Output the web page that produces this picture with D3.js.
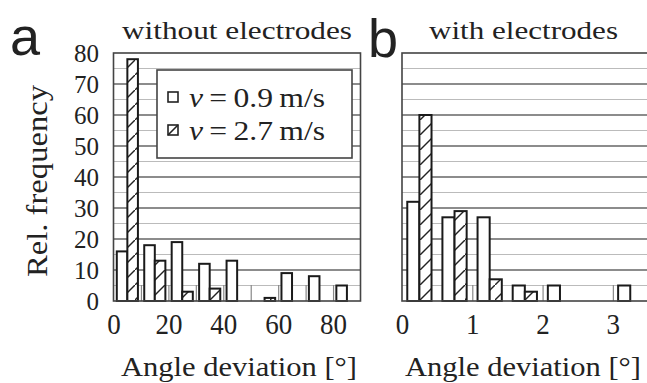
<!DOCTYPE html>
<html>
<head>
<meta charset="utf-8">
<script src="https://cdn.jsdelivr.net/npm/d3@7"></script>
<style>
  body { margin: 0; background: #fff; }
  svg { display: block; }
  text { font-family: 'Liberation Serif', 'Times New Roman', serif; fill: #222; }
  text.letter { font-family: 'Liberation Sans', Arial, sans-serif; }
</style>
</head>
<body>
<div id="chart"></div>
<script>
// data: relative frequency per angle-deviation bin
const seriesNames = ["v09", "v27"];
const binsA = [0, 10, 20, 30, 40, 50, 60, 70, 80];          // bin starts, width 10°
const slowA = [16, 18, 19, 12, 13, 0, 9, 8, 5];              // v = 0.9 m/s
const fastA = [78, 13, 3, 4, 0, 1, 0, 0, 0];                 // v = 2.7 m/s
const binsB = [0, 0.5, 1, 1.5, 2, 2.5, 3];                   // bin starts, width 0.5°
const slowB = [32, 27, 27, 5, 5, 0, 5];
const fastB = [60, 29, 7, 3, 0, 0, 0];
const yTicks = [0, 10, 20, 30, 40, 50, 60, 70, 80];
const xLabelsA = [0, 20, 40, 60, 80];
const xLabelsB = [0, 1, 2, 3];

const width = 647, height = 383;
const serif = "'Liberation Serif', 'Times New Roman', serif";
const svg = d3.select("#chart").append("svg")
  .attr("width", width).attr("height", height);

// hatch pattern for v = 2.7
const defs = svg.append("defs");
defs.append("pattern")
  .attr("id", "hatch")
  .attr("patternUnits", "userSpaceOnUse")
  .attr("width", 15).attr("height", 15)
  .call(p => {
    p.append("rect").attr("width", 15).attr("height", 15).attr("fill", "#fff");
    p.append("path").attr("d", "M-2,17 L17,-2").attr("stroke", "#222").attr("stroke-width", 1.4);
  });

const y = d3.scaleLinear().domain([0, 80]).range([301, 53]);

function panel(opts) {
  const x = d3.scaleLinear().domain(opts.domain).range(opts.range);
  const g = svg.append("g");
  const left = opts.range[0], right = opts.range[1];

  // horizontal grid
  g.append("g").selectAll("line")
    .data(d3.range(5, 80, 5))
    .join("line")
    .attr("x1", left).attr("x2", right)
    .attr("y1", d => y(d)).attr("y2", d => y(d))
    .attr("stroke", d => d % 10 === 0 ? "#666" : "#bbb")
    .attr("stroke-width", d => d % 10 === 0 ? 1.3 : 1.2);

  // inner ticks
  g.append("g")
    .attr("transform", `translate(0,${y(0)})`)
    .call(d3.axisBottom(x).tickValues(opts.tickLines).tickSize(-16).tickFormat(""))
    .call(a => a.select(".domain").remove())
    .call(a => a.selectAll("line").attr("stroke", "#888").attr("stroke-width", 1.2));

  // bars
  const sub = d3.scaleBand().domain(seriesNames).range(opts.barSpan.map(f => f * opts.binW));
  const rows = opts.bins.map((b, i) => ({ b, vals: [opts.slow[i], opts.fast[i]] }));
  g.append("g").selectAll("g")
    .data(rows)
    .join("g")
    .selectAll("rect")
    .data(d => seriesNames.map((s, j) => ({ s, b: d.b, v: d.vals[j] })).filter(d => d.v > 0))
    .join("rect")
    .attr("x", d => x(d.b + sub(d.s)))
    .attr("width", d => x(d.b + sub(d.s) + sub.bandwidth()) - x(d.b + sub(d.s)))
    .attr("y", d => y(d.v))
    .attr("height", d => y(0) - y(d.v))
    .attr("fill", d => d.s === "v27" ? "url(#hatch)" : "#fff")
    .attr("stroke", "#1a1a1a")
    .attr("stroke-width", 2);

  // frame
  g.append("rect")
    .attr("x", left).attr("y", y(80))
    .attr("width", right - left).attr("height", y(0) - y(80))
    .attr("fill", "none").attr("stroke", "#444").attr("stroke-width", 1.6);

  // tick labels
  g.append("g")
    .attr("transform", `translate(0,${y(0)})`)
    .call(d3.axisBottom(x).tickValues(opts.labels).tickSize(0).tickPadding(11).tickFormat(d3.format("d")))
    .call(a => a.select(".domain").remove())
    .call(a => a.selectAll("text")
      .style("font-family", serif)
      .attr("font-size", 27).attr("fill", "#222")
      .attr("transform", "scale(1,1.1)"));

  // axis title
  g.append("text")
    .attr("x", opts.titleX).attr("y", 376)
    .attr("font-size", 27)
    .attr("textLength", 236).attr("lengthAdjust", "spacingAndGlyphs")
    .text("Angle deviation [°]");

  // panel title
  g.append("text")
    .attr("x", opts.headX).attr("y", 39)
    .attr("font-size", 26)
    .attr("textLength", opts.headW).attr("lengthAdjust", "spacingAndGlyphs")
    .text(opts.head);

  // panel letter
  g.append("text")
    .attr("class", "letter")
    .attr("x", opts.letterX).attr("y", opts.letterY)
    .attr("font-size", 54)
    .text(opts.letter);

  return { x, g };
}

const pa = panel({
  domain: [0, 90], range: [113.5, 360.5], binW: 10, barSpan: [0.12, 0.89],
  bins: binsA, slow: slowA, fast: fastA,
  tickLines: d3.range(10, 90, 10), labels: xLabelsA,
  titleX: 121, head: "without electrodes", headX: 122, headW: 230,
  letter: "a", letterX: 10, letterY: 55
});

const pb = panel({
  domain: [0, 3.5], range: [402, 648], binW: 0.5, barSpan: [0.15, 0.84],
  bins: binsB, slow: slowB, fast: fastB,
  tickLines: [1, 2, 3], labels: xLabelsB,
  titleX: 405, head: "with electrodes", headX: 429, headW: 189,
  letter: "b", letterX: 368, letterY: 57
});

// y axis labels (panel a only)
svg.append("g")
  .attr("transform", "translate(113,0)")
  .call(d3.axisLeft(y).tickValues(yTicks).tickSize(0).tickPadding(14))
  .call(a => a.select(".domain").remove())
  .call(a => a.selectAll("text")
    .style("font-family", serif)
    .attr("font-size", 25).attr("fill", "#222"));

svg.append("text")
  .attr("transform", "translate(47,181) rotate(-90)")
  .attr("text-anchor", "middle")
  .attr("font-size", 29)
  .attr("textLength", 192).attr("lengthAdjust", "spacingAndGlyphs")
  .text("Rel. frequency");

// legend
const lg = svg.append("g");
lg.append("rect")
  .attr("x", 157).attr("y", 70).attr("width", 195).attr("height", 88)
  .attr("fill", "#fff").attr("stroke", "#444").attr("stroke-width", 1.6);
const legendRows = [
  { s: "v09", val: "0.9" },
  { s: "v27", val: "2.7" }
];
const ly = d3.scaleBand().domain(seriesNames).range([81, 147]);
legendRows.forEach(r => {
  const cy = ly(r.s) + ly.bandwidth() / 2;
  lg.append("rect")
    .attr("x", 168).attr("y", cy - 5.5).attr("width", 10).attr("height", 10)
    .attr("fill", "#fff").attr("stroke", "#222").attr("stroke-width", 1.6);
  if (r.s === "v27") {
    lg.append("line")
      .attr("x1", 168).attr("y1", cy + 4.5).attr("x2", 178).attr("y2", cy - 5.5)
      .attr("stroke", "#222").attr("stroke-width", 1.6);
  }
  const t = lg.append("text")
    .attr("x", 189).attr("y", cy + 9)
    .attr("font-size", 27)
    .attr("textLength", 136).attr("lengthAdjust", "spacingAndGlyphs");
  t.append("tspan").attr("font-style", "italic").text("v");
  t.append("tspan").text("\u2009=\u2009" + r.val + "\u2009m/s");
});
</script>
</body>
</html>
